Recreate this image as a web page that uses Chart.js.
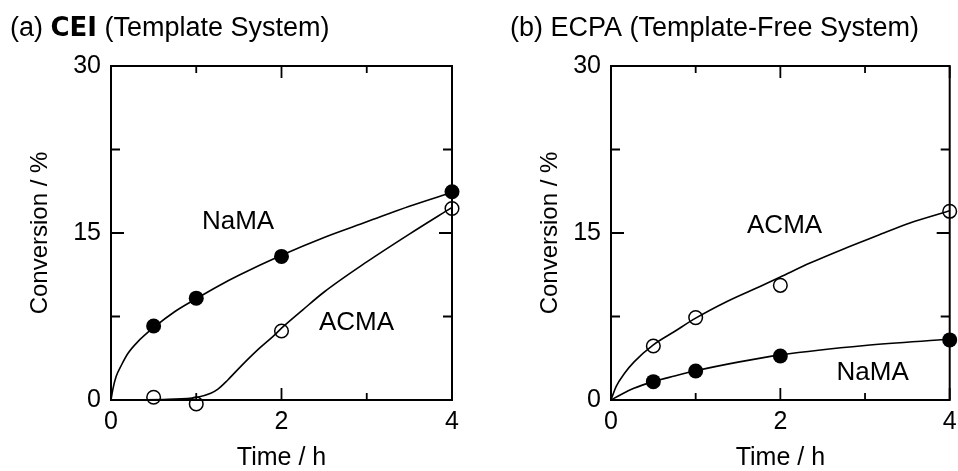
<!DOCTYPE html>
<html>
<head>
<meta charset="utf-8">
<script src="https://cdn.jsdelivr.net/npm/chart.js@4.4.1/dist/chart.umd.min.js"></script>
<style>
  html, body { margin: 0; padding: 0; background: #fff; }
  body { width: 958px; height: 471px; overflow: hidden; position: relative; }
  .panel { position: absolute; top: 0; width: 479px; height: 471px; }
</style>
</head>
<body>
<div class="panel" style="left:0"><canvas id="chartA" width="479" height="471"></canvas></div>
<div class="panel" style="left:479px"><canvas id="chartB" width="479" height="471"></canvas></div>
<script>
// ---------- data ----------
const timePoints = [0.5, 1, 2, 4];

// (a) CEI (Template System) measured points
const ceiNaMA = [6.65, 9.15, 12.9, 18.7];
const ceiACMA = [0.25, -0.35, 6.2, 17.2];

// (a) fitted curves
const ceiNaMACurveX = [0, 0.02, 0.06, 0.12, 0.2, 0.31, 0.5, 0.75, 1, 1.25, 1.5, 2, 2.5, 3, 3.5, 4];
const ceiNaMACurveY = [0, 0.9, 2.1, 3.1, 4.2, 5.2, 6.5, 7.95, 9.1, 10.2, 11.2, 13.0, 14.6, 16.0, 17.4, 18.65];
const ceiACMACurveX = [0, 0.3, 0.67, 1.0, 1.17, 1.25, 1.37, 1.52, 1.72, 1.92, 2.0, 2.25, 2.5, 3.0, 3.5, 4.0];
const ceiACMACurveY = [0, 0.02, 0.06, 0.22, 0.6, 0.95, 1.8, 3.0, 4.5, 5.85, 6.45, 8.1, 9.7, 12.4, 14.9, 17.3];

// (b) ECPA (Template-Free System) measured points
const ecpaACMA = [4.85, 7.4, 10.3, 16.95];
const ecpaNaMA = [1.65, 2.6, 3.95, 5.4];

// (b) fitted curves
const ecpaACMACurveX = [0, 0.06, 0.16, 0.27, 0.5, 0.75, 1, 1.37, 1.76, 2, 2.35, 2.74, 3.14, 3.53, 4];
const ecpaACMACurveY = [0, 1.2, 2.4, 3.4, 4.95, 6.15, 7.35, 8.85, 10.2, 11.05, 12.3, 13.55, 14.75, 15.9, 17.0];
const ecpaNaMACurveX = [0, 0.12, 0.27, 0.5, 0.75, 1, 1.5, 2, 3, 4];
const ecpaNaMACurveY = [0, 0.5, 1.05, 1.65, 2.15, 2.62, 3.4, 4.05, 4.9, 5.45];

// axis tick label values
const xTickLabels = [0, 2, 4];
const yTickLabels = [0, 15, 30];

// text
const titleA = ['(a) ', 'CEI', ' (Template System)'];
const titleB = ['(b) ECPA (Template-Free System)'];
const xTitle = 'Time / h';
const yTitle = 'Conversion / %';

// ---------- helpers ----------
const FONT = "'Liberation Sans', Arial, Helvetica, sans-serif";
const BOLDFONT = "'DejaVu Sans', 'Liberation Sans', Arial, sans-serif";
const pairs = (xs, ys) => xs.map((x, i) => ({x: x, y: ys[i]}));

function pointSet(label, ys, filled) {
  return {
    label: label,
    data: pairs(timePoints, ys),
    showLine: false,
    pointRadius: filled ? 7.5 : 6.8,
    pointHoverRadius: filled ? 7.5 : 6.8,
    pointBackgroundColor: filled ? '#000' : 'rgba(0,0,0,0)',
    pointBorderColor: '#000',
    pointBorderWidth: filled ? 0 : 1.5,
    clip: false
  };
}
function curveSet(label, xs, ys) {
  return {
    label: label,
    data: pairs(xs, ys),
    showLine: true,
    pointRadius: 0,
    borderColor: '#000',
    borderWidth: 1.6,
    cubicInterpolationMode: 'monotone',
    fill: false,
    clip: false
  };
}

const framePlugin = {
  id: 'frame',
  beforeDatasetsDraw(chart) {
    const {ctx, chartArea: a, scales: {x, y}} = chart;
    ctx.save();
    ctx.strokeStyle = '#000';
    ctx.lineWidth = 1.8;
    x.ticks.forEach(t => {
      const px = x.getPixelForValue(t.value);
      const len = xTickLabels.includes(t.value) ? 12 : 7;
      ctx.beginPath();
      ctx.moveTo(px, a.bottom); ctx.lineTo(px, a.bottom - len);
      ctx.moveTo(px, a.top); ctx.lineTo(px, a.top + len);
      ctx.stroke();
    });
    y.ticks.forEach(t => {
      const py = y.getPixelForValue(t.value);
      const len = yTickLabels.includes(t.value) ? 13 : 9;
      ctx.beginPath();
      ctx.moveTo(a.left, py); ctx.lineTo(a.left + len, py);
      ctx.moveTo(a.right, py); ctx.lineTo(a.right - len, py);
      ctx.stroke();
    });
    ctx.lineWidth = 2;
    ctx.strokeRect(a.left, a.top, a.right - a.left, a.bottom - a.top);
    ctx.restore();
  },
  afterDraw(chart, args, opts) {
    const {ctx, scales: {x, y}} = chart;
    ctx.save();
    ctx.fillStyle = '#000';
    // panel title
    ctx.textBaseline = 'middle';
    ctx.textAlign = 'left';
    let tx = opts.titleX;
    opts.title.forEach((part, i) => {
      const bold = opts.boldIndex === i;
      ctx.font = bold ? ('bold 26px ' + BOLDFONT) : ('27px ' + FONT);
      ctx.fillText(part, tx, 29);
      tx += ctx.measureText(part).width;
    });
    // series labels
    ctx.textAlign = 'center';
    ctx.font = '26px ' + FONT;
    opts.labels.forEach(l => {
      ctx.fillText(l.text, x.getPixelForValue(l.x), y.getPixelForValue(l.y));
    });
    ctx.restore();
  }
};

function makeChart(id, datasets, yWidth, rightPad, yTitlePad, title, boldIndex, titleX, labels) {
  return new Chart(document.getElementById(id), {
    type: 'scatter',
    data: {datasets: datasets},
    plugins: [framePlugin],
    options: {
      responsive: false,
      animation: false,
      events: [],
      layout: {padding: {top: 66, right: rightPad, left: 0, bottom: 0}},
      plugins: {
        legend: {display: false},
        tooltip: {enabled: false},
        frame: {title: title, boldIndex: boldIndex, titleX: titleX, labels: labels}
      },
      scales: {
        x: {
          type: 'linear', min: 0, max: 4,
          afterFit: s => { s.height = 71; s.paddingLeft = 0; s.paddingRight = 0; },
          grid: {display: false, drawTicks: false},
          border: {display: false},
          ticks: {
            stepSize: 1, padding: 7, color: '#000', maxRotation: 0, autoSkip: false,
            font: {family: FONT, size: 25},
            callback: v => xTickLabels.includes(v) ? String(v) : ''
          },
          title: {display: true, text: xTitle, color: '#000',
                  font: {family: FONT, size: 25, lineHeight: 1}, padding: {top: 0, bottom: 0}}
        },
        y: {
          type: 'linear', min: 0, max: 30,
          afterFit: s => { s.width = yWidth; s.paddingTop = 0; s.paddingBottom = 0; },
          grid: {display: false, drawTicks: false},
          border: {display: false},
          ticks: {
            stepSize: 7.5, padding: 10, color: '#000', autoSkip: false,
            font: {family: FONT, size: 25},
            callback: v => yTickLabels.includes(v) ? String(v) : ''
          },
          title: {display: true, text: yTitle, color: '#000',
                  font: {family: FONT, size: 24, lineHeight: 1}, padding: {top: yTitlePad, bottom: 0}}
        }
      }
    }
  });
}

makeChart('chartA', [
  pointSet('NaMA', ceiNaMA, true),
  pointSet('ACMA', ceiACMA, false),
  curveSet('NaMA fit', ceiNaMACurveX, ceiNaMACurveY),
  curveSet('ACMA fit', ceiACMACurveX, ceiACMACurveY)
], 111, 27, 28, titleA, 1, 10, [
  {text: 'NaMA', x: 1.49, y: 16.0},
  {text: 'ACMA', x: 2.88, y: 6.9}
]);

makeChart('chartB', [
  pointSet('NaMA', ecpaNaMA, true),
  pointSet('ACMA', ecpaACMA, false),
  curveSet('NaMA fit', ecpaNaMACurveX, ecpaNaMACurveY),
  curveSet('ACMA fit', ecpaACMACurveX, ecpaACMACurveY)
], 132, 8, 59, titleB, -1, 31, [
  {text: 'ACMA', x: 2.05, y: 15.6},
  {text: 'NaMA', x: 3.09, y: 2.4}
]);
</script>
</body>
</html>
